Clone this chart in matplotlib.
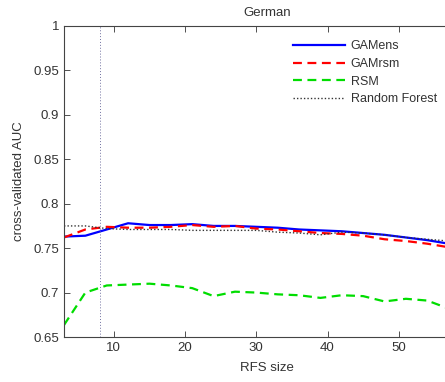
import matplotlib
matplotlib.use('Agg')
import matplotlib.pyplot as plt

# RFS sizes and cross-validated AUC per method
rfs = [3, 6, 9, 12, 15, 18, 21, 24, 27, 30, 33, 36, 39, 42, 45, 48, 51, 54, 57]
gamens = [0.763, 0.764, 0.771, 0.778, 0.776, 0.776, 0.777, 0.775, 0.775, 0.774,
          0.773, 0.771, 0.770, 0.769, 0.767, 0.765, 0.762, 0.759, 0.755]
gamrsm = [0.762, 0.771, 0.774, 0.773, 0.773, 0.774, 0.776, 0.774, 0.775, 0.772,
          0.771, 0.769, 0.767, 0.766, 0.764, 0.760, 0.758, 0.755, 0.751]
rsm = [0.6635, 0.700, 0.708, 0.709, 0.710, 0.708, 0.705, 0.696, 0.701, 0.700,
       0.698, 0.697, 0.694, 0.697, 0.696, 0.690, 0.693, 0.691, 0.682]
rforest = [0.775, 0.775, 0.772, 0.771, 0.771, 0.771, 0.770, 0.770, 0.770, 0.770,
           0.768, 0.767, 0.765, 0.768, 0.767, 0.765, 0.762, 0.760, 0.758]
best_size = 8
yticks = [0.65, 0.7, 0.75, 0.8, 0.85, 0.9, 0.95, 1]
ytick_labels = ['0.65', '0.7', '0.75', '0.8', '0.85', '0.9', '0.95', '1']
xticks = [10, 20, 30, 40, 50]

plt.rcParams['font.family'] = ['Liberation Sans', 'DejaVu Sans']
fs = 9.5

fig = plt.figure(figsize=(4.45, 3.82), dpi=100)
# axes run past the right edge of the figure
ax = fig.add_axes([64/445, 45/382, 406/445, 311/382])

ax.plot(rfs, gamens, color='#0000ff', lw=1.6, label='GAMens')
ax.plot(rfs, gamrsm, color='#ff0000', lw=1.6, ls=(0, (4, 2.5)), label='GAMrsm')
ax.plot(rfs, rsm, color='#00dd00', lw=1.6, ls=(0, (4, 2.5)), label='RSM')
ax.plot(rfs, rforest, color='#333333', lw=1.0, ls=(0, (1, 1.5)), label='Random Forest')
ax.axvline(best_size, color='#7070a0', lw=0.7, ls=(0, (1, 2)))

ax.set_xlim(3, 60)
ax.set_ylim(0.65, 1)
ax.set_xticks(xticks)
ax.set_yticks(yticks)
ax.set_yticklabels(ytick_labels)
ax.tick_params(direction='in', top=True, right=True, length=4, width=0.6,
               colors='#333333', labelcolor='#333333', labelsize=fs)
for s in ax.spines.values():
    s.set_color('#444444')
    s.set_linewidth(0.8)

ax.set_title('German', fontsize=fs, color='#333333', pad=7)
ax.set_xlabel('RFS size', fontsize=fs, color='#333333', labelpad=6)
ax.set_ylabel('cross-validated AUC', fontsize=fs, color='#333333', labelpad=6)

ax.legend(loc='upper left', bbox_to_anchor=(218/406, 0.99), frameon=False,
          fontsize=9, handlelength=4.1, handletextpad=0.5, labelspacing=0.45,
          labelcolor='#333333')

fig.savefig('out.png', dpi=100)
